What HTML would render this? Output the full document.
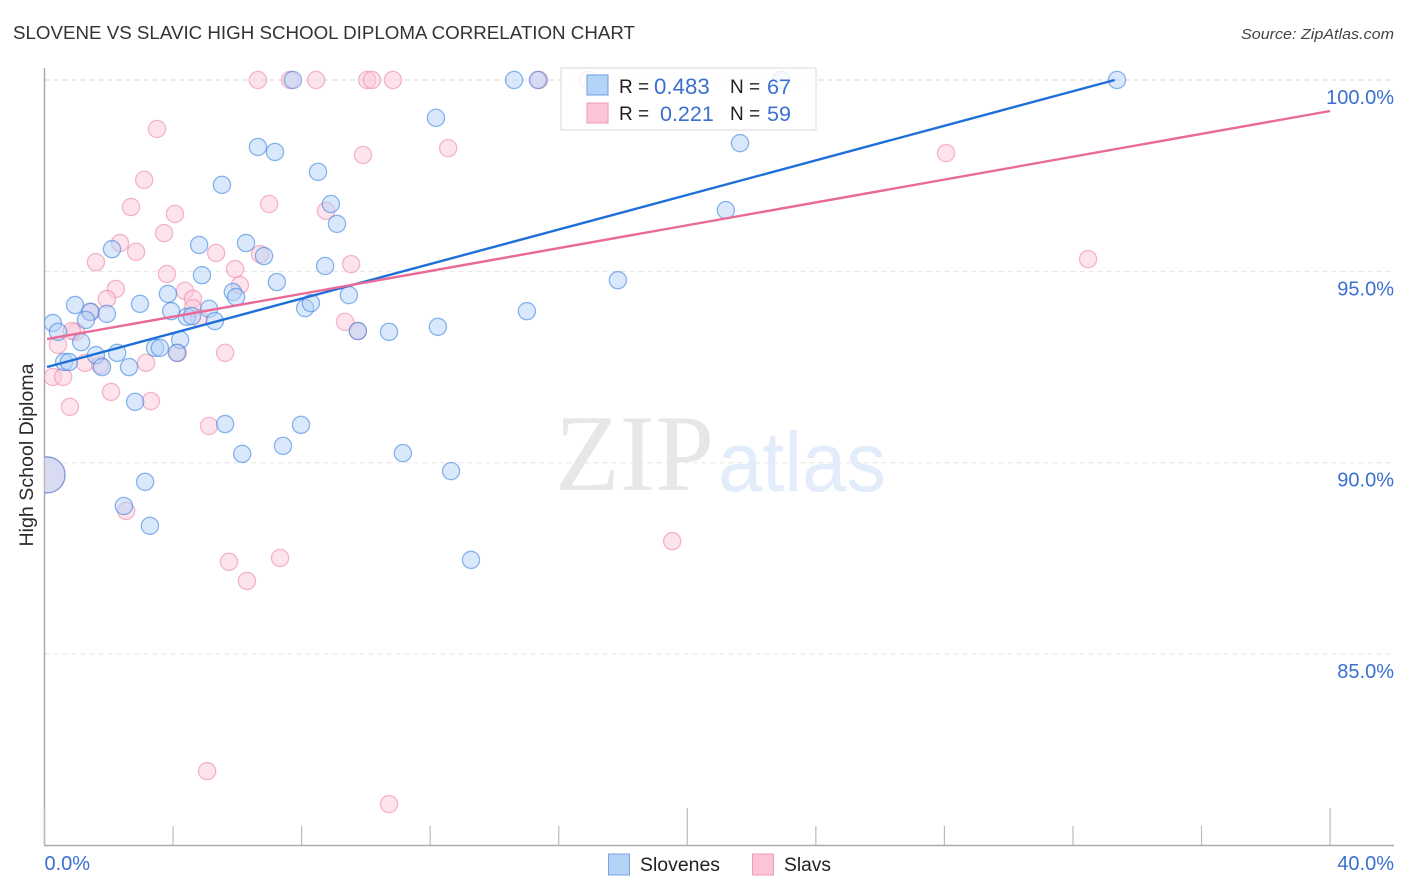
<!DOCTYPE html>
<html lang="en">
<head>
<meta charset="utf-8">
<title>Slovene vs Slavic High School Diploma Correlation Chart</title>
<style>
html,body{margin:0;padding:0;background:#fff;}
body{width:1406px;height:892px;overflow:hidden;}
svg{display:block;font-family:"Liberation Sans",sans-serif;}
</style>
</head>
<body>
<svg id="chart" xmlns="http://www.w3.org/2000/svg" width="1406" height="892" viewBox="0 0 1406 892">
  <defs><clipPath id="plot-clip"><rect x="44.5" y="60" width="1350" height="785"/></clipPath></defs>
  <rect width="1406" height="892" fill="#fff"/>
  <text x="13" y="39" font-size="18" fill="#333" textLength="622" lengthAdjust="spacingAndGlyphs">SLOVENE VS SLAVIC HIGH SCHOOL DIPLOMA CORRELATION CHART</text>
  <text x="1394" y="39" font-size="15" font-style="italic" fill="#444" text-anchor="end" textLength="153" lengthAdjust="spacingAndGlyphs">Source: ZipAtlas.com</text>
  <g id="grid"></g>
  <g>
    <text x="555" y="490" font-family="'Liberation Serif',serif" font-size="109" fill="#e7e7e7" textLength="159" lengthAdjust="spacingAndGlyphs">ZIP</text>
    <text x="718" y="491" font-size="84" fill="#e3ecfa" textLength="168" lengthAdjust="spacingAndGlyphs">atlas</text>
  </g>
  <g id="axes"></g>
  <g id="pink-points" clip-path="url(#plot-clip)"></g>
  <g id="blue-points" clip-path="url(#plot-clip)"></g>
  <g id="trends"></g>
  <text transform="translate(33,455) rotate(-90)" font-size="19.6" fill="#2a2a2a" text-anchor="middle">High School Diploma</text>
  <g>
    <rect x="561" y="68" width="255" height="62" fill="#fff" fill-opacity="0.8" stroke="#d9d9d9"/>
    <rect x="587" y="75" width="21" height="20" fill="#b5d2f7" stroke="#6d9fe2"/>
    <rect x="587" y="103" width="21" height="20" fill="#fcc5d6" stroke="#ee9ab6"/>
    <text x="619" y="93" font-size="19" fill="#222">R =</text>
    <text x="654" y="94" font-size="22.3" fill="#3b6fd0">0.483</text>
    <text x="730" y="93" font-size="19" fill="#222">N =</text>
    <text x="767" y="94" font-size="21.5" fill="#3b6fd0">67</text>
    <text x="619" y="120" font-size="19" fill="#222">R =</text>
    <text x="660" y="121" font-size="21.5" fill="#3b6fd0">0.221</text>
    <text x="730" y="120" font-size="19" fill="#222">N =</text>
    <text x="767" y="121" font-size="21.5" fill="#3b6fd0">59</text>
  </g>
  <g>
    <rect x="608.5" y="854" width="21" height="21" fill="#b5d2f7" stroke="#7aa5e0"/>
    <text x="640" y="871" font-size="19" fill="#222" textLength="80" lengthAdjust="spacingAndGlyphs">Slovenes</text>
    <rect x="752.5" y="854" width="21" height="21" fill="#fcc5d6" stroke="#ee9ab6"/>
    <text x="784" y="871" font-size="19" fill="#222" textLength="47" lengthAdjust="spacingAndGlyphs">Slavs</text>
  </g>
</svg>
<script>
const yTickValues = [100, 95, 90, 85];
const yTickLabels = ["100.0%", "95.0%", "90.0%", "85.0%"];
const xTickValues = [0, 4, 8, 12, 16, 20, 24, 28, 32, 36, 40];
const xMajorTicks = [0, 20, 40];
const xEndValues = [0, 40];
const xEndLabels = ["0.0%", "40.0%"];

const slovenesX = [7.73,6.64,7.17,8.51,5.52,8.91,4.81,6.27,6.83,2.10,8.73,4.90,7.23,3.84,5.86,5.96,0.95,2.97,3.94,5.12,4.43,4.59,5.30,1.42,1.29,1.94,0.26,0.42,8.11,8.29,9.47,1.14,4.22,3.44,3.59,4.12,2.26,1.60,0.61,0.76,1.79,2.63,2.82,5.62,6.15,7.42,7.98,3.13,2.47,3.28,14.61,15.35,22.92,33.37,12.18,21.64,21.20,9.10,17.84,15.01,12.24,10.72,9.75,11.15,12.65,13.27];
const slovenesY = [100,98.25,98.12,97.60,97.26,96.76,95.69,95.74,95.40,95.58,95.14,94.90,94.72,94.41,94.46,94.33,94.12,94.15,93.96,94.02,93.81,93.83,93.70,93.94,93.73,93.89,93.65,93.42,94.04,94.17,94.38,93.15,93.21,93.00,93.00,92.87,92.87,92.81,92.63,92.63,92.50,92.50,91.59,91.01,90.23,90.44,90.99,89.50,88.87,88.35,100,100,100,100,99.01,98.35,96.60,96.24,94.77,93.96,93.55,93.42,93.44,90.25,89.78,87.46];
const slavsX = [6.64,7.64,8.45,3.50,3.10,2.69,4.06,6.99,8.76,3.72,2.35,2.85,1.60,5.34,6.71,9.54,3.81,5.93,6.08,2.22,1.94,4.37,4.62,4.62,4.81,1.45,9.35,0.98,0.85,0.42,1.26,3.16,4.15,5.62,1.73,0.26,0.58,2.07,3.31,0.79,5.12,2.54,5.74,6.30,7.33,5.06,10.72,19.53,32.47,28.05,12.56,9.91,9.75,10.04,10.19,10.84,15.39,16.91];
const slavsY = [100,100,100,98.72,97.39,96.68,96.50,96.76,96.58,96.00,95.74,95.51,95.24,95.48,95.45,95.19,94.93,95.06,94.64,94.54,94.28,94.49,94.28,94.04,93.78,93.94,93.68,93.42,93.44,93.08,92.61,92.61,92.87,92.87,92.55,92.24,92.24,91.85,91.61,91.46,90.96,88.74,87.41,86.91,87.51,81.94,81.08,87.95,95.32,98.09,98.22,98.04,93.44,100,100,100,100,100];
const aggregateX = [0.08];
const aggregateY = [89.68];

const slovenesTrendX = [0.08, 33.3];
const slovenesTrendY = [92.5, 100];
const slavsTrendX = [0.08, 40];
const slavsTrendY = [93.23, 99.19];

const SVGNS = "http://www.w3.org/2000/svg";
function xScale(v){ return 44.5 + v * 32.14; }
function yScale(v){ return 80 + (100 - v) * 38.27; }
function make(tag, attrs, parent){
  const el = document.createElementNS(SVGNS, tag);
  for (const k in attrs) el.setAttribute(k, attrs[k]);
  parent.appendChild(el);
  return el;
}

const grid = document.getElementById("grid");
const axes = document.getElementById("axes");

yTickValues.forEach(function(v, i){
  const line = make("line", {x1:44.5, x2:1394, y1:yScale(v), y2:yScale(v), stroke: i === 0 ? "#d4d4d4" : "#e4e4e4", "stroke-width":1, "stroke-dasharray":"5 4"}, grid);
  
  
  const label = make("text", {x:1394, y:yScale(v) + 24, "font-size":20, fill:"#3b6fd0", "text-anchor":"end"}, axes);
  label.textContent = yTickLabels[i];
  
  
});

const yAxisLine = make("line", {x1:44.5, x2:44.5, y1:68, y2:845, stroke:"#aaa", "stroke-width":1.5}, axes);


const xAxisLine = make("line", {x1:44, x2:1394, y1:845.5, y2:845.5, stroke:"#aaa", "stroke-width":1.5}, axes);



xTickValues.forEach(function(v){
  const top = xMajorTicks.indexOf(v) >= 0 ? 808 : 826;
  const tick = make("line", {x1:xScale(v), x2:xScale(v), y1:top, y2:845, stroke:"#bbb", "stroke-width":1.2}, axes);
  
  
});

xEndValues.forEach(function(v, i){
  const isFirst = i === 0;
  const label = make("text", {x: isFirst ? xScale(v) : 1394, y:870, "font-size":20, fill:"#3b6fd0", "text-anchor": isFirst ? "start" : "end"}, axes);
  label.textContent = xEndLabels[i];
  
  
});

function drawPoints(xs, ys, parent, radius, fill, stroke){
  xs.forEach(function(v, i){
    const c = make("circle", {cx:xScale(v), cy:yScale(ys[i]), r:radius, fill:fill, "fill-opacity":0.5, stroke:stroke, "stroke-opacity":0.55, "stroke-width":1.3}, parent);
    
    
  });
}
const pinkGroup = document.getElementById("pink-points");
const blueGroup = document.getElementById("blue-points");
drawPoints(slavsX, slavsY, pinkGroup, 8.6, "#fcc9d9", "#ec7fa3");
drawPoints(aggregateX, aggregateY, pinkGroup, 18, "#fcc9d9", "#ec7fa3");
drawPoints(slovenesX, slovenesY, blueGroup, 8.6, "#b5d2f7", "#2f7be0");
drawPoints(aggregateX, aggregateY, blueGroup, 18, "#b5d2f7", "#2f7be0");

const trends = document.getElementById("trends");
const blueTrend = make("line", {x1:xScale(slovenesTrendX[0]), y1:yScale(slovenesTrendY[0]), x2:xScale(slovenesTrendX[1]), y2:yScale(slovenesTrendY[1]), stroke:"#1f6fd8", "stroke-width":2.4}, trends);


const pinkTrend = make("line", {x1:xScale(slavsTrendX[0]), y1:yScale(slavsTrendY[0]), x2:xScale(slavsTrendX[1]), y2:yScale(slavsTrendY[1]), stroke:"#e96a97", "stroke-width":2.4}, trends);


</script>
</body>
</html>
